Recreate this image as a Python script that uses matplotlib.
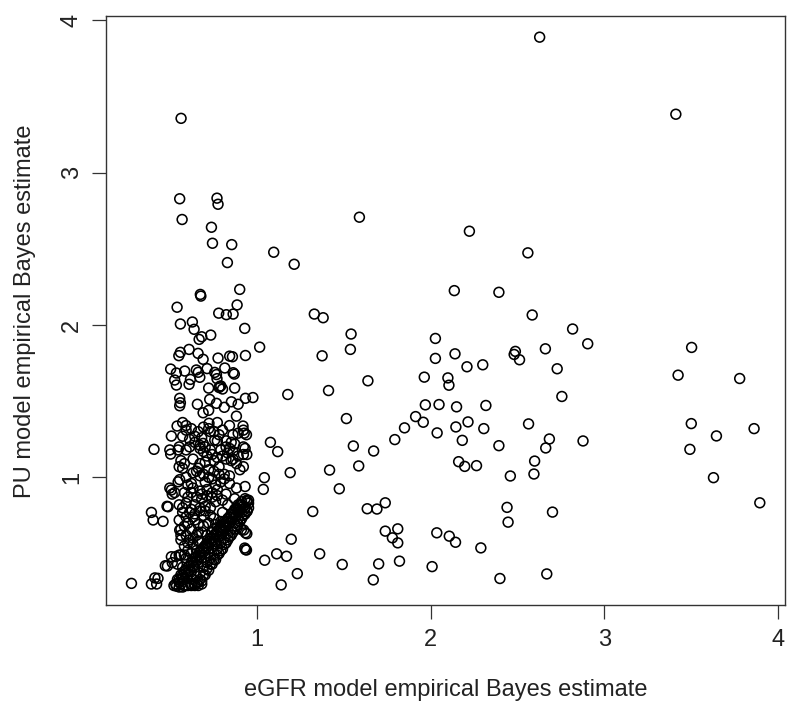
import matplotlib
matplotlib.use("Agg")
import matplotlib.pyplot as plt
import numpy as np

plt.rcParams["font.family"] = ["Liberation Sans", "DejaVu Sans"]

# points away from the dense cluster
spread_x = [2.628, 3.413, 1.589, 2.223, 1.095, 1.213, 2.560, 2.136, 2.393,
            2.585, 2.818, 2.905, 3.504, 3.426, 3.781, 3.502, 3.647, 3.864, 3.494, 3.630, 3.897,
            1.329, 1.380, 1.541, 1.537, 1.014, 1.374, 2.027, 2.027, 2.140, 2.209, 2.300, 2.488,
            2.481, 2.512, 2.661, 2.729, 2.756, 1.963, 2.099, 2.105, 1.638, 1.411, 1.176, 0.975,
            1.969, 2.048, 2.149, 2.318, 1.913, 1.957, 1.849, 1.793, 2.037, 2.145, 2.215, 2.306,
            2.182, 2.393, 2.564, 2.684, 2.663, 2.878, 2.599, 2.595, 2.459, 2.161, 2.196, 2.264,
            1.514, 1.554, 1.671, 1.585, 1.076, 1.118, 1.190, 1.417, 1.473, 1.041, 1.035, 1.320,
            1.634, 1.690, 1.738, 2.440, 2.446, 2.702, 1.196, 1.738, 1.810, 1.779, 1.810, 2.035,
            2.107, 2.143, 2.289, 1.112, 1.169, 1.043, 1.360, 1.231, 1.138, 1.490, 1.700, 1.820,
            1.669, 2.008, 2.399, 2.669]
spread_y = [3.890, 3.384, 2.708, 2.616, 2.478, 2.399, 2.474, 2.226, 2.215,
            2.066, 1.974, 1.877, 1.853, 1.671, 1.649, 1.353, 1.272, 1.320, 1.184, 0.998, 0.833,
            2.072, 2.048, 1.941, 1.840, 1.855, 1.798, 1.912, 1.781, 1.811, 1.726, 1.739, 1.827,
            1.807, 1.772, 1.844, 1.713, 1.531, 1.658, 1.653, 1.605, 1.634, 1.570, 1.544, 1.524,
            1.476, 1.478, 1.463, 1.472, 1.399, 1.362, 1.325, 1.248, 1.292, 1.331, 1.364, 1.320,
            1.243, 1.208, 1.351, 1.252, 1.193, 1.239, 1.107, 1.022, 1.009, 1.103, 1.072, 1.077,
            1.386, 1.206, 1.173, 1.075, 1.230, 1.169, 1.031, 1.048, 0.925, 0.998, 0.921, 0.776,
            0.794, 0.792, 0.833, 0.803, 0.706, 0.772, 0.594, 0.647, 0.662, 0.603, 0.570, 0.636,
            0.614, 0.574, 0.537, 0.498, 0.482, 0.456, 0.498, 0.368, 0.294, 0.428, 0.432, 0.450,
            0.327, 0.414, 0.336, 0.366]

# tall column of points with eGFR estimate below 1
column_x = [0.561, 0.553, 0.768, 0.774, 0.567, 0.736, 0.742, 0.853, 0.828, 0.899, 0.672, 0.675,
            0.538, 0.884, 0.778, 0.822, 0.861, 0.557, 0.626, 0.636, 0.928, 0.732, 0.665, 0.680,
            0.607, 0.557, 0.548, 0.659, 0.688, 0.774, 0.841, 0.857, 0.932, 0.501, 0.582, 0.649,
            0.660, 0.711, 0.755, 0.813, 0.868, 0.524, 0.534, 0.607, 0.615, 0.669, 0.768, 0.720,
            0.784, 0.790, 0.780, 0.800, 0.870, 0.932, 0.553, 0.557, 0.553, 0.655, 0.726, 0.765,
            0.810, 0.851, 0.890, 0.880, 0.688, 0.720, 0.534, 0.861, 0.765]
column_y = [3.357, 2.829, 2.833, 2.793, 2.693, 2.642, 2.537, 2.528, 2.410, 2.234, 2.201, 2.190,
            2.117, 2.132, 2.078, 2.068, 2.072, 2.007, 2.020, 1.972, 1.978, 1.934, 1.906, 1.923,
            1.840, 1.821, 1.799, 1.814, 1.775, 1.783, 1.796, 1.792, 1.800, 1.711, 1.698, 1.705,
            1.690, 1.714, 1.689, 1.718, 1.678, 1.639, 1.606, 1.611, 1.643, 1.657, 1.648, 1.586,
            1.597, 1.600, 1.590, 1.580, 1.586, 1.519, 1.519, 1.490, 1.470, 1.480, 1.512, 1.486,
            1.460, 1.496, 1.480, 1.402, 1.424, 1.440, 1.685, 1.687, 1.675]

# dense cloud below y = 1.4
cloud_x = [0.538, 0.57, 0.59, 0.59, 0.722, 0.72, 0.77, 0.918, 0.92, 0.925, 0.89, 0.505, 0.57, 0.64,
           0.66, 0.69, 0.75, 0.80, 0.84, 0.86, 0.62, 0.78, 0.938, 0.73,
           0.688, 0.77, 0.82, 0.87, 0.85, 0.755, 0.67, 0.70, 0.405, 0.55, 0.61, 0.92, 0.93, 0.94,
           0.496, 0.543, 0.59, 0.67, 0.69, 0.73, 0.79, 0.84, 0.92, 0.86, 0.501,
           0.56, 0.57, 0.55, 0.58, 0.63, 0.67, 0.70, 0.75, 0.78, 0.82, 0.88, 0.92, 0.72, 0.65,
           0.59, 0.553, 0.67, 0.70, 0.74, 0.79, 0.84, 0.88, 0.544, 0.93, 0.62, 0.76, 0.81,
           0.505, 0.51, 0.496, 0.524, 0.63, 0.67, 0.71, 0.77, 0.82, 0.58, 0.74, 0.60, 0.68,
           0.59, 0.64, 0.70, 0.76, 0.80, 0.486, 0.55, 0.48, 0.62, 0.73, 0.67,
           0.57, 0.63, 0.69, 0.75, 0.80, 0.39, 0.40, 0.457, 0.59, 0.64, 0.79, 0.72, 0.66, 0.60, 0.76, 0.55,
           0.553, 0.56, 0.59, 0.65, 0.61, 0.56, 0.68, 0.71, 0.74,
           0.67, 0.70, 0.63, 0.58, 0.60,
           0.505, 0.55, 0.58, 0.53, 0.56, 0.59, 0.62, 0.65,
           0.47, 0.482, 0.51, 0.54, 0.57,
           0.275, 0.39, 0.428, 0.42, 0.41, 0.534, 0.52, 0.55, 0.57,
           0.932, 0.94, 0.922, 0.932, 0.938, 0.928, 0.942, 0.909]
cloud_y = [1.337, 1.36, 1.34, 1.31, 1.355, 1.32, 1.36, 1.337, 1.31, 1.29, 1.29, 1.271, 1.27, 1.27,
           1.30, 1.33, 1.30, 1.31, 1.34, 1.28, 1.32, 1.28, 1.28, 1.30,
           1.223, 1.24, 1.24, 1.22, 1.23, 1.245, 1.21, 1.20, 1.184, 1.20, 1.20, 1.20, 1.19, 1.15,
           1.18, 1.18, 1.18, 1.19, 1.17, 1.18, 1.18, 1.19, 1.15, 1.17, 1.153,
           1.11, 1.06, 1.07, 1.09, 1.12, 1.09, 1.10, 1.11, 1.07, 1.12, 1.09, 1.07, 1.05, 1.04,
           1.00, 0.985, 1.01, 0.97, 0.99, 0.97, 1.01, 0.93, 0.971, 0.94, 0.96, 0.95, 1.02,
           0.917, 0.89, 0.93, 0.90, 0.93, 0.91, 0.88, 0.92, 0.89, 0.90, 0.87, 0.87, 0.86,
           0.83, 0.82, 0.81, 0.84, 0.85, 0.807, 0.82, 0.81, 0.79, 0.80, 0.78,
           0.77, 0.74, 0.75, 0.73, 0.77, 0.77, 0.72, 0.711, 0.74, 0.72, 0.67, 0.70, 0.69, 0.70, 0.69, 0.72,
           0.654, 0.66, 0.62, 0.62, 0.59, 0.59, 0.64, 0.62, 0.64,
           0.58, 0.55, 0.56, 0.55, 0.52,
           0.479, 0.49, 0.49, 0.48, 0.49, 0.47, 0.50, 0.52,
           0.42, 0.418, 0.44, 0.43, 0.41,
           0.304, 0.30, 0.337, 0.30, 0.34, 0.286, 0.29, 0.28, 0.28,
           0.636, 0.63, 0.654, 0.526, 0.523, 0.536, 0.778, 0.657]

# extra overlapping points inside the cloud
cloud2_x = [0.61, 0.64, 0.68, 0.71, 0.74, 0.77, 0.80, 0.83, 0.86, 0.63, 0.66, 0.69, 0.72, 0.75,
            0.78, 0.81, 0.84, 0.60, 0.62, 0.65, 0.68, 0.71, 0.74, 0.77, 0.57, 0.61, 0.64, 0.67,
            0.70, 0.73, 0.58, 0.62, 0.66, 0.69, 0.56, 0.60, 0.63, 0.66, 0.75, 0.79, 0.83, 0.87,
            0.90, 0.82, 0.85, 0.89]
cloud2_y = [1.25, 1.23, 1.26, 1.14, 1.15, 1.13, 1.14, 1.16, 1.12, 1.03, 1.06, 1.02, 1.00, 1.04,
            1.02, 0.99, 0.96, 0.95, 0.90, 0.87, 0.89, 0.92, 0.90, 0.88, 0.80, 0.77, 0.76, 0.80,
            0.78, 0.75, 0.68, 0.66, 0.64, 0.68, 0.62, 0.57, 0.60, 0.58, 0.66, 0.71, 0.82, 0.86,
            1.05, 1.20, 1.11, 1.14]

# near-solid diagonal streak
streak_x = [0.54, 0.56, 0.58, 0.60, 0.62, 0.64, 0.66, 0.68, 0.70, 0.72, 0.74, 0.76, 0.78, 0.80,
            0.82, 0.84, 0.86, 0.88, 0.90,
            0.56, 0.58, 0.60, 0.62, 0.64, 0.66, 0.68, 0.70, 0.72, 0.74, 0.76, 0.78, 0.80, 0.82,
            0.84, 0.86, 0.88, 0.90, 0.92, 0.94,
            0.62, 0.64, 0.66, 0.68, 0.70, 0.72, 0.74, 0.76, 0.78, 0.80, 0.82, 0.84, 0.86, 0.88,
            0.90, 0.92, 0.94,
            0.63, 0.65, 0.67, 0.69, 0.71, 0.73, 0.75, 0.77, 0.79, 0.81, 0.83, 0.85, 0.87, 0.89,
            0.91, 0.93, 0.95,
            0.58, 0.60, 0.62, 0.64, 0.66, 0.68, 0.94, 0.95, 0.93,
            0.55, 0.57, 0.59, 0.61, 0.63, 0.65, 0.67, 0.69, 0.71, 0.73, 0.75, 0.77, 0.79, 0.81,
            0.83, 0.85, 0.87, 0.89, 0.91,
            0.65, 0.67, 0.69, 0.71, 0.73, 0.75, 0.77, 0.79, 0.81, 0.83, 0.85, 0.87, 0.89, 0.91,
            0.93, 0.95,
            0.53, 0.55, 0.57, 0.59, 0.61, 0.63, 0.65, 0.67, 0.69, 0.71, 0.73, 0.75, 0.77, 0.79,
            0.81, 0.83, 0.85, 0.87, 0.89, 0.91]
streak_y = [0.33, 0.36, 0.38, 0.41, 0.44, 0.47, 0.49, 0.52, 0.55, 0.58, 0.60, 0.63, 0.66, 0.69,
            0.71, 0.74, 0.77, 0.80, 0.82,
            0.30, 0.33, 0.36, 0.38, 0.41, 0.44, 0.47, 0.50, 0.53, 0.56, 0.58, 0.61, 0.64, 0.67,
            0.70, 0.73, 0.75, 0.78, 0.81, 0.84,
            0.29, 0.29, 0.29, 0.32, 0.36, 0.39, 0.43, 0.46, 0.50, 0.53, 0.57, 0.61, 0.64, 0.68,
            0.71, 0.75, 0.78,
            0.33, 0.35, 0.37, 0.41, 0.44, 0.47, 0.50, 0.53, 0.57, 0.60, 0.63, 0.66, 0.70, 0.73,
            0.77, 0.80, 0.83,
            0.29, 0.29, 0.30, 0.30, 0.31, 0.30, 0.85, 0.85, 0.86,
            0.31, 0.34, 0.37, 0.39, 0.42, 0.45, 0.48, 0.51, 0.54, 0.57, 0.59, 0.62, 0.65, 0.68,
            0.71, 0.74, 0.76, 0.79, 0.82,
            0.31, 0.33, 0.36, 0.40, 0.43, 0.46, 0.49, 0.52, 0.56, 0.59, 0.62, 0.66, 0.69, 0.73,
            0.76, 0.80,
            0.30, 0.33, 0.36, 0.39, 0.42, 0.45, 0.48, 0.51, 0.54, 0.57, 0.60, 0.62, 0.65, 0.68,
            0.71, 0.73, 0.76, 0.79, 0.82, 0.84]

x = np.array(spread_x + column_x + cloud_x + cloud2_x + streak_x)
y = np.array(spread_y + column_y + cloud_y + cloud2_y + streak_y)

fig = plt.figure(figsize=(8, 7.2), dpi=100)
ax = fig.add_axes([0.1331, 0.1597, 0.8481, 0.8181])
ax.scatter(x, y, s=50, facecolors="none", edgecolors="black", linewidths=1.15)

ax.set_xlim(0.131, 4.042)
ax.set_ylim(0.162, 4.029)
ax.set_xticks([1, 2, 3, 4])
ax.set_yticks([1, 2, 3, 4])
for s in ax.spines.values():
    s.set_color("#333333")
    s.set_linewidth(1.0)
ax.tick_params(direction="out", length=10, width=0.9, color="#333333",
               labelsize=17, pad=7, labelcolor="#222222")
for lab in ax.get_yticklabels():
    lab.set_rotation(90)
    lab.set_va("center")

fig.text(0.557, 0.0417, "eGFR model empirical Bayes estimate", ha="center", va="center",
         fontsize=17, color="#222222")
fig.text(0.031, 0.568, "PU model empirical Bayes estimate", ha="center", va="center",
         rotation=90, fontsize=17, color="#222222")

fig.savefig("out.png", dpi=100, facecolor="white")
